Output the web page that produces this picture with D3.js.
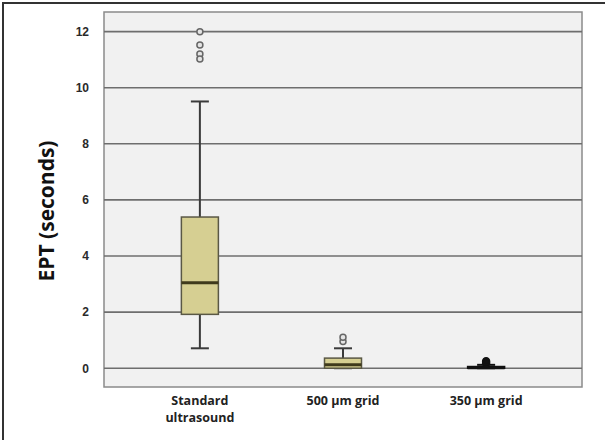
<!DOCTYPE html>
<html>
<head>
<meta charset="utf-8">
<script src="https://cdn.jsdelivr.net/npm/d3@7"></script>
<style>
  body { margin: 0; background: #fff; }
  svg { display: block; font-family: "Open Sans", "DejaVu Sans", sans-serif; }
</style>
</head>
<body>
<div id="vis"></div>
<script>
// categories and box stats (seconds)
var categories = ["Standard ultrasound", "500 µm grid", "350 µm grid"];
var categoryLines = [["Standard", "ultrasound"], ["500 µm grid"], ["350 µm grid"]];
var lowWhisker = [0.71, 0, 0];
var q1 = [1.92, 0, 0];
var median = [3.05, 0.12, 0.02];
var q3 = [5.39, 0.36, 0.06];
var highWhisker = [9.51, 0.71, 0.12];
var outliers = [[12.0, 11.52, 11.2, 11.02], [0.95, 1.1], [0.18, 0.25]];
var yTicks = [0, 2, 4, 6, 8, 10, 12];

var width = 605, height = 440;
var margin = {top: 12, right: 23, bottom: 53, left: 104};

var svg = d3.select("#vis")
            .append("svg")
            .attr("width", width)
            .attr("height", height);

// outer frame (only top and left show in the picture)
svg.append("rect")
   .attr("x", 3).attr("y", 3)
   .attr("width", width + 20).attr("height", height + 20)
   .style("fill", "none")
   .style("stroke", "#333")
   .style("stroke-width", 2);

var x = d3.scalePoint()
          .domain(categories)
          .range([margin.left, width - margin.right])
          .padding(0.67);

var y = d3.scaleLinear()
          .domain([-0.67, 12.7])
          .range([height - margin.bottom, margin.top]);

// plot background
svg.append("rect")
   .attr("x", margin.left).attr("y", margin.top)
   .attr("width", width - margin.left - margin.right)
   .attr("height", height - margin.top - margin.bottom)
   .style("fill", "#f1f1f1")
   .style("stroke", "#8a8a8a")
   .style("stroke-width", 1.5);

// gridlines
svg.append("g")
   .selectAll("line")
   .data(yTicks)
   .enter()
     .append("line")
     .attr("x1", margin.left).attr("x2", width - margin.right)
     .attr("y1", function(d) { return y(d); })
     .attr("y2", function(d) { return y(d); })
     .style("stroke", "#6e6e6e")
     .style("stroke-width", 1.6);

// y axis labels
var yAxis = d3.axisLeft(y).tickValues(yTicks).tickSize(0).tickPadding(15);
var gy = svg.append("g")
   .attr("transform", "translate(" + margin.left + ",0)")
   .call(yAxis);
gy.select(".domain").remove();
gy.selectAll("text")
  .style("font-size", "12px")
  .style("font-weight", "bold")
  .style("fill", "#2a2a2a");

// y title
svg.append("text")
   .attr("transform", "translate(54,211) rotate(-90)")
   .attr("text-anchor", "middle")
   .style("font-size", "21px")
   .style("font-weight", "bold")
   .style("fill", "#111")
   .text("EPT (seconds)");

// category labels
categoryLines.forEach(function(lines, i) {
  var t = svg.append("text")
     .attr("text-anchor", "middle")
     .style("font-size", "12.5px")
     .style("font-weight", "bold")
     .style("fill", "#222");
  lines.forEach(function(s, j) {
    t.append("tspan")
     .attr("x", x(categories[i]))
     .attr("y", 405 + j * 17)
     .text(s);
  });
});

var boxW = 37, capW = 18;
var boxes = svg.append("g")
   .selectAll("g")
   .data(categories)
   .enter()
     .append("g");

// whiskers
boxes.append("line")
  .attr("x1", function(d) { return x(d); })
  .attr("x2", function(d) { return x(d); })
  .attr("y1", function(d, i) { return y(lowWhisker[i]); })
  .attr("y2", function(d, i) { return y(highWhisker[i]); })
  .style("stroke", function(d, i) { return i == 2 ? "#111" : "#3a3a3a"; })
  .style("stroke-width", 2);

[lowWhisker, highWhisker].forEach(function(arr) {
  boxes.append("line")
    .attr("x1", function(d) { return x(d) - capW / 2; })
    .attr("x2", function(d) { return x(d) + capW / 2; })
    .attr("y1", function(d, i) { return y(arr[i]); })
    .attr("y2", function(d, i) { return y(arr[i]); })
    .style("stroke", function(d, i) { return i == 2 ? "#111" : "#3a3a3a"; })
    .style("stroke-width", 2);
});

// boxes
boxes.append("rect")
  .attr("x", function(d) { return x(d) - boxW / 2; })
  .attr("width", boxW)
  .attr("y", function(d, i) { return y(q3[i]); })
  .attr("height", function(d, i) { return Math.max(1, y(q1[i]) - y(q3[i])); })
  .style("fill", function(d, i) { return i == 2 ? "#1a1a10" : "#d6cf92"; })
  .style("stroke", function(d, i) { return i == 2 ? "#111" : "#5a5845"; })
  .style("stroke-width", 1.5);

// medians
boxes.append("line")
  .attr("x1", function(d) { return x(d) - boxW / 2; })
  .attr("x2", function(d) { return x(d) + boxW / 2; })
  .attr("y1", function(d, i) { return y(median[i]); })
  .attr("y2", function(d, i) { return y(median[i]); })
  .style("stroke", function(d, i) { return i == 2 ? "#111" : "#3f3a1c"; })
  .style("stroke-width", 3);

// outliers
boxes.each(function(d, i) {
  d3.select(this).selectAll("circle")
    .data(outliers[i])
    .enter()
      .append("circle")
      .attr("cx", x(d))
      .attr("cy", function(v) { return y(v); })
      .attr("r", i == 2 ? 3.5 : 3)
      .style("fill", i == 2 ? "#111" : "#e4e4e4")
      .style("stroke", i == 2 ? "#111" : "#666")
      .style("stroke-width", 1.5);
});
</script>
</body>
</html>
